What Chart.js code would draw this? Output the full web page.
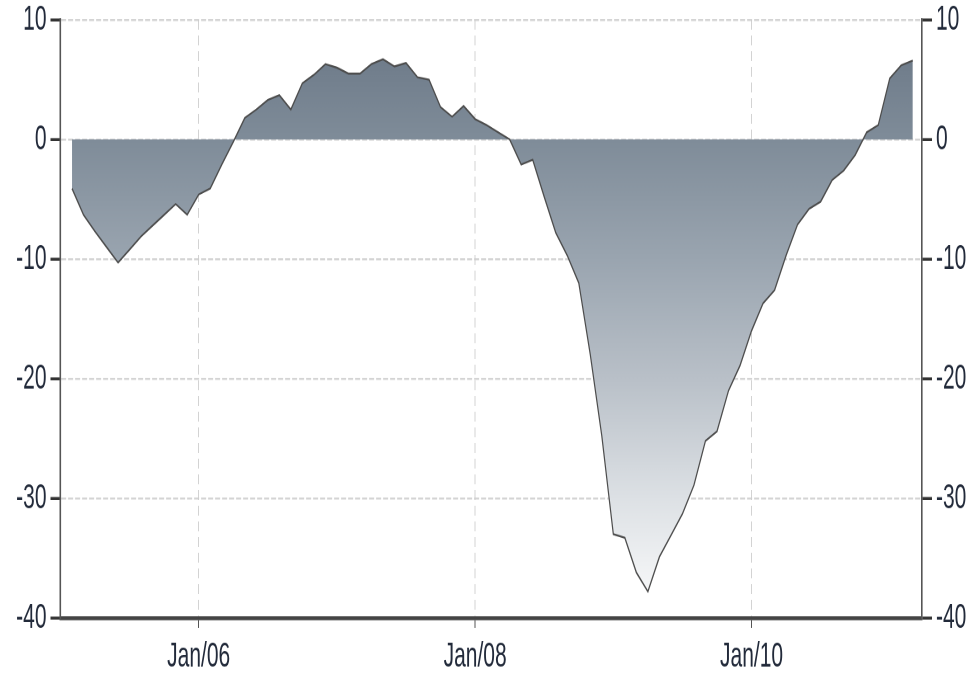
<!DOCTYPE html>
<html lang="en">
<head>
<meta charset="UTF-8">
<title>Area chart</title>
<script src="https://cdn.jsdelivr.net/npm/chart.js@4"></script>
<style>
    html { overflow: hidden; }
    body { margin: 0; padding: 0; background: #fff; height: 675px; }
    /* the original picture is stretched vertically: draw it flat, then stretch */
    .wrap { width: 978px; height: 409px; transform: scaleY(1.65); transform-origin: 0 0; }
</style>
</head>
<body>
<div class="wrap"><canvas id="chart"></canvas></div>

<script>
    // monthly values, Feb 2005 .. Mar 2011
    const values = [
        -4.1, -6.3, -7.7, -9.0, -10.3, -9.2, -8.1, -7.2, -6.3, -5.4, -6.3,
        -4.6, -4.1, -2.1, -0.2, 1.8, 2.5, 3.3, 3.7, 2.5, 4.7, 5.4, 6.3,
        6.0, 5.5, 5.5, 6.3, 6.7, 6.1, 6.4, 5.2, 5.0, 2.7, 1.9, 2.8,
        1.7, 1.2, 0.6, 0.0, -2.1, -1.7, -4.8, -7.8, -9.7, -12.0, -18.0, -24.8, -33.0, -33.3, -36.2, -37.8,
        -34.9, -33.1, -31.3, -28.9, -25.2, -24.4, -21.0, -18.9, -16.0, -13.7, -12.6, -9.7, -7.1, -5.8, -5.2,
        -3.4, -2.6, -1.3, 0.6, 1.2, 5.1, 6.2, 6.6
    ];
    const firstMonth = 1;              // months counted from Jan 2005
    const tickMonths = [12, 36, 60];
    const tickLabels = ['Jan/06', 'Jan/08', 'Jan/10'];

    const font = { family: 'Liberation Sans, Arial, sans-serif', size: 21 };
    const textColor = '#222a3a';

    function areaFill(ctx) {
        const area = ctx.chart.chartArea;
        if (!area) return '#7f8c99';
        const g = ctx.chart.ctx.createLinearGradient(0, area.top, 0, area.bottom);
        g.addColorStop(0, '#687584');
        g.addColorStop(0.2, '#7f8c99');
        g.addColorStop(0.4, '#9aa5b0');
        g.addColorStop(0.6, '#b9c0c8');
        g.addColorStop(0.8, '#dde1e5');
        g.addColorStop(0.95, '#f5f6f7');
        g.addColorStop(1, '#fcfcfc');
        return g;
    }

    const yAxis = (pos, width) => ({
        type: 'linear',
        position: pos,
        min: -40,
        max: 10,
        z: 1,
        afterFit: s => { s.width = width; s.paddingTop = 12; s.paddingBottom = 0; },
        ticks: { stepSize: 10, color: textColor, font, padding: 4 },
        grid: {
            drawOnChartArea: pos === 'left',
            color: 'rgba(205,205,205,0.85)',
            lineWidth: 1.2,
            tickLength: 10,
            tickColor: '#333',
            tickWidth: 1.8
        },
        border: { color: '#555', width: 1.6, dash: [5, 2] }
    });

    new Chart(document.getElementById('chart'), {
        type: 'line',
        data: {
            datasets: [{
                data: values.map((v, i) => ({ x: firstMonth + i, y: v })),
                borderColor: '#4d4d4d',
                borderWidth: 1.2,
                backgroundColor: areaFill,
                fill: 'origin',
                pointRadius: 0,
                tension: 0
            }]
        },
        options: {
            responsive: true,
            maintainAspectRatio: false,
            animation: false,
            devicePixelRatio: 2,
            layout: { padding: { top: 12, left: 0, right: 0, bottom: 0 } },
            plugins: { legend: { display: false }, tooltip: { enabled: false } },
            scales: {
                x: {
                    type: 'linear',
                    min: 0,
                    max: 74.8,
                    z: 1,
                    afterFit: s => { s.height = 34.5; s.paddingLeft = 0; s.paddingRight = 0; },
                    afterBuildTicks: s => { s.ticks = tickMonths.map(v => ({ value: v })); },
                    ticks: {
                        autoSkip: false,
                        maxRotation: 0,
                        color: textColor,
                        font,
                        padding: 5,
                        callback: (v, i) => tickLabels[i]
                    },
                    grid: {
                        color: 'rgba(200,200,200,0.8)',
                        lineWidth: 1,
                        tickLength: 6,
                        tickColor: '#555',
                        tickWidth: 1
                    },
                    border: { color: '#444', width: 2.4, dash: [6, 3.5] }
                },
                y: yAxis('left', 60.5),
                y2: yAxis('right', 56)
            }
        }
    });
</script>
</body>
</html>
